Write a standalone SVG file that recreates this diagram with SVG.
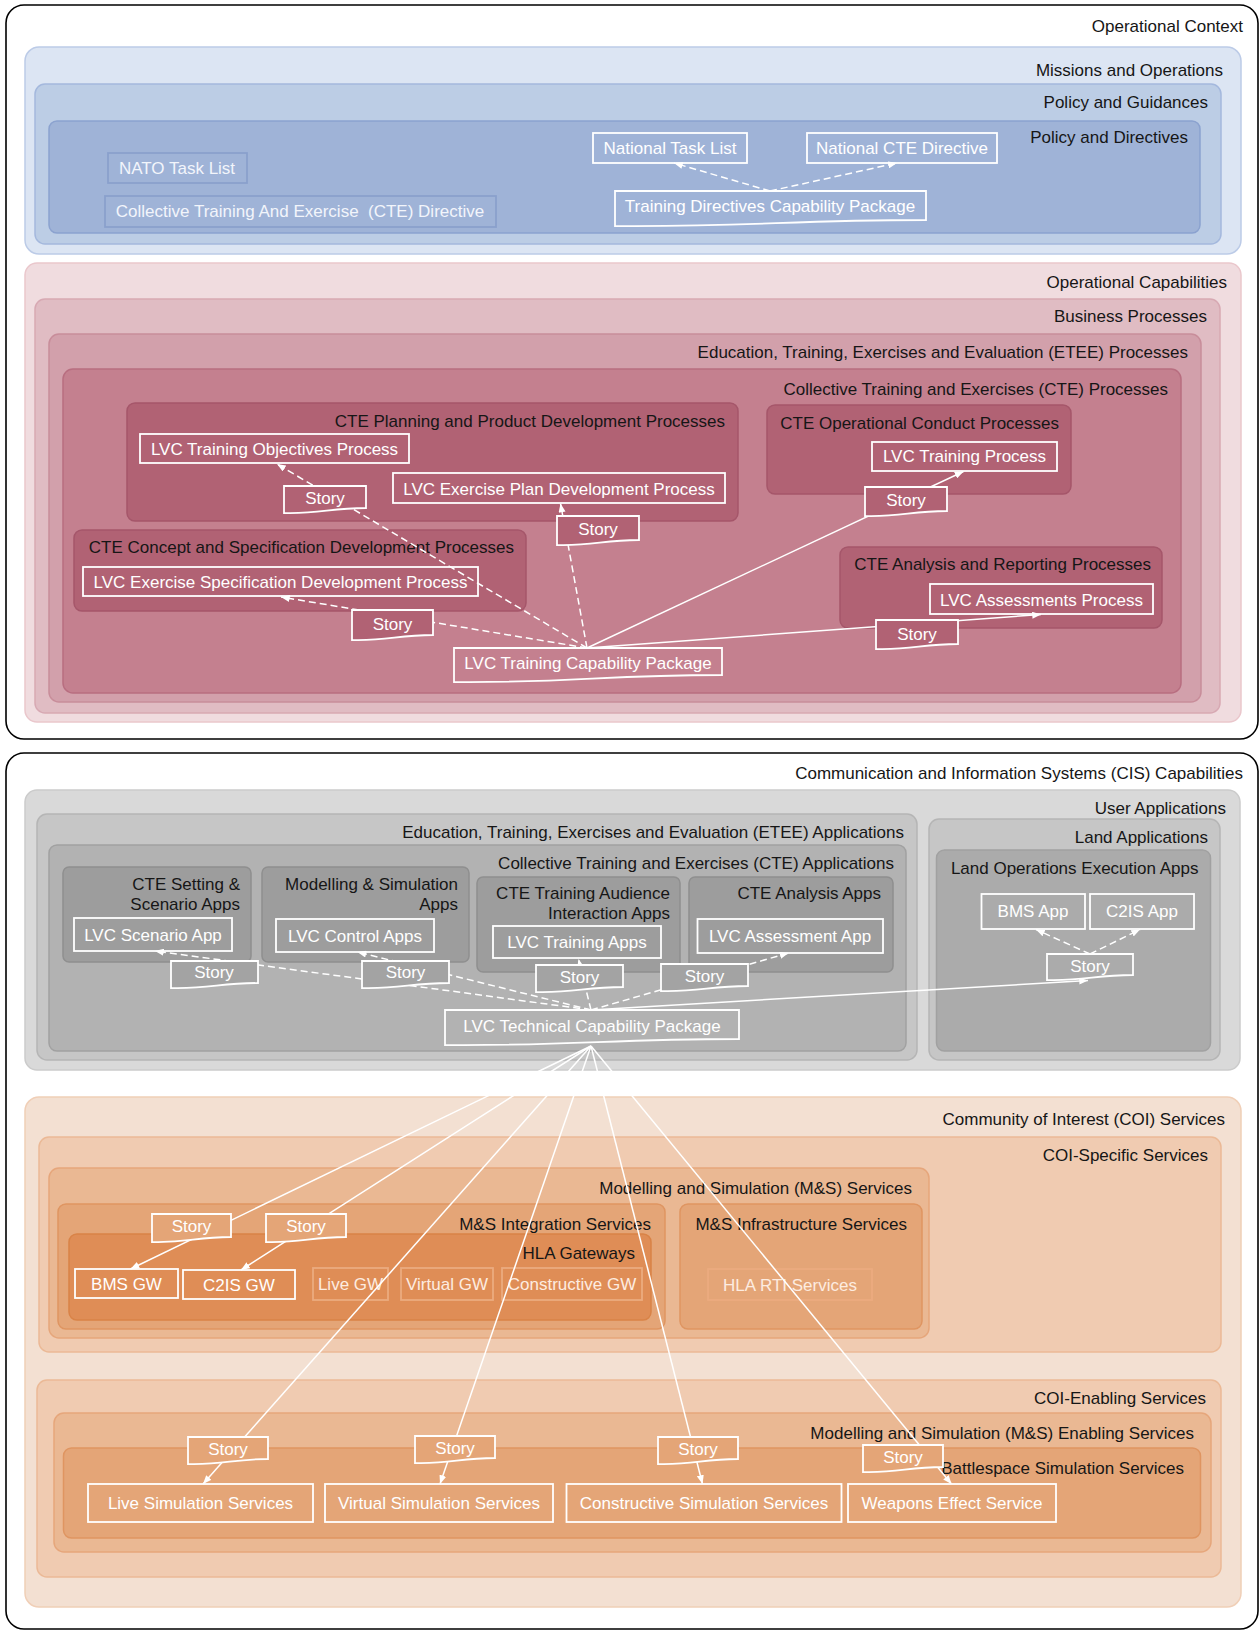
<svg xmlns="http://www.w3.org/2000/svg" width="1260" height="1631" viewBox="0 0 1260 1631">
<defs>
  <style>
    text { font-family: "Liberation Sans", Arial, sans-serif; font-size: 17px; }
    .lbl { fill: #161616; text-anchor: end; }
    .ntx { fill: #ffffff; text-anchor: middle; }
    .fade-b { fill: #f2f5fb; text-anchor: middle; }
    .fade-o { fill: #fdece0; text-anchor: middle; }
    .outer { fill: #ffffff; stroke: #000000; stroke-width: 1.6; }
    .node { fill: none; stroke: #ffffff; stroke-width: 1.8; }
    .b1 { fill: #dce5f3; stroke: #bccbe7; stroke-width: 1.5; }
    .b2 { fill: #bccde5; stroke: #a4b8dd; stroke-width: 1.5; }
    .b3 { fill: #9fb3d7; stroke: #8ba2cf; stroke-width: 1.5; }
    .bnode { fill: none; stroke: #8aa0cd; stroke-width: 1.8; }
    .p1 { fill: #f0dcdf; stroke: #eac7cc; stroke-width: 1.5; }
    .p2 { fill: #e0bcc3; stroke: #d7a9b3; stroke-width: 1.5; }
    .p3 { fill: #d2a0ab; stroke: #c88d9a; stroke-width: 1.5; }
    .p4 { fill: #c4808f; stroke: #b86e80; stroke-width: 1.5; }
    .p5 { fill: #b16274; stroke: #a5566a; stroke-width: 1.5; }
    .pstory { fill: #b16274; stroke: #ffffff; stroke-width: 1.8; }
    .g1 { fill: #d9d9d9; stroke: #cbcbcb; stroke-width: 1.5; }
    .g2 { fill: #c6c6c6; stroke: #b5b5b5; stroke-width: 1.5; }
    .g3 { fill: #b2b2b2; stroke: #a1a1a1; stroke-width: 1.5; }
    .g4 { fill: #9d9d9d; stroke: #8f8f8f; stroke-width: 1.5; }
    .gstory { fill: #a3a3a3; stroke: #ffffff; stroke-width: 1.8; }
    .o1 { fill: #f3e0d2; stroke: #f0cfb7; stroke-width: 1.5; }
    .o2 { fill: #f0cbb1; stroke: #ebb996; stroke-width: 1.5; }
    .o3 { fill: #eab893; stroke: #e6a67b; stroke-width: 1.5; }
    .o4 { fill: #e4a577; stroke: #df9561; stroke-width: 1.5; }
    .o5 { fill: #df8d56; stroke: #d98347; stroke-width: 1.5; }
    .onode { fill: none; stroke: #ebab7f; stroke-width: 1.8; }
    .ostory { fill: #e4a577; stroke: #ffffff; stroke-width: 1.8; }
    .con { fill: none; stroke: #ffffff; stroke-width: 1.5; }
    .dash { stroke-dasharray: 7 4; }
  </style>
  <marker id="ah" viewBox="0 0 10 8" refX="10" refY="4" markerWidth="9" markerHeight="7" markerUnits="userSpaceOnUse" orient="auto">
    <path d="M0,0 L10,4 L0,8 z" fill="#ffffff"/>
  </marker>
</defs>

<!-- ===================== Operational Context ===================== -->
<g id="operational-context">
  <rect class="outer" x="6" y="5" width="1252" height="734" rx="18"/>
  <text class="lbl" x="1243" y="32">Operational Context</text>
</g>
<g id="missions-and-operations">
  <rect class="b1" x="25" y="47" width="1216" height="207" rx="14"/>
  <text class="lbl" x="1223" y="76">Missions and Operations</text>
</g>
<g id="policy-and-guidances">
  <rect class="b2" x="35" y="84" width="1186" height="160" rx="10"/>
  <text class="lbl" x="1208" y="108">Policy and Guidances</text>
</g>
<g id="policy-and-directives">
  <rect class="b3" x="49" y="121" width="1151" height="112" rx="8"/>
  <text class="lbl" x="1188" y="143">Policy and Directives</text>
</g>

<g id="operational-capabilities">
  <rect class="p1" x="25" y="263" width="1216" height="459" rx="12"/>
  <text class="lbl" x="1227" y="288">Operational Capabilities</text>
</g>
<g id="business-processes">
  <rect class="p2" x="35" y="299" width="1185" height="414" rx="10"/>
  <text class="lbl" x="1207" y="322">Business Processes</text>
</g>
<g id="etee-processes">
  <rect class="p3" x="49" y="334" width="1152" height="368" rx="10"/>
  <text class="lbl" x="1188" y="358">Education, Training, Exercises and Evaluation (ETEE) Processes</text>
</g>
<g id="cte-processes">
  <rect class="p4" x="63" y="369" width="1118" height="324" rx="10"/>
  <text class="lbl" x="1168" y="395">Collective Training and Exercises (CTE) Processes</text>
</g>
<g id="cte-planning-processes">
  <rect class="p5" x="127" y="403" width="611" height="118" rx="8"/>
  <text class="lbl" x="725" y="427">CTE Planning and Product Development Processes</text>
</g>
<g id="cte-conduct-processes">
  <rect class="p5" x="767" y="405" width="304" height="89" rx="8"/>
  <text class="lbl" x="1059" y="429">CTE Operational Conduct Processes</text>
</g>
<g id="cte-concept-processes">
  <rect class="p5" x="74" y="530" width="452" height="81" rx="8"/>
  <text class="lbl" x="514" y="553">CTE Concept and Specification Development Processes</text>
</g>
<g id="cte-analysis-processes">
  <rect class="p5" x="840" y="547" width="322" height="81" rx="8"/>
  <text class="lbl" x="1151" y="570">CTE Analysis and Reporting Processes</text>
</g>

<!-- ===================== CIS Capabilities ===================== -->
<g id="cis-capabilities">
  <rect class="outer" x="6" y="753" width="1252" height="876" rx="18"/>
  <text class="lbl" x="1243" y="779">Communication and Information Systems (CIS) Capabilities</text>
</g>
<g id="user-applications">
  <rect class="g1" x="25" y="790" width="1215" height="280" rx="12"/>
  <text class="lbl" x="1226" y="814">User Applications</text>
</g>
<g id="etee-applications">
  <rect class="g2" x="37" y="814" width="880" height="246" rx="10"/>
  <text class="lbl" x="904" y="838">Education, Training, Exercises and Evaluation (ETEE) Applications</text>
</g>
<g id="cte-applications">
  <rect class="g3" x="49" y="845" width="857" height="206" rx="8"/>
  <text class="lbl" x="894" y="869">Collective Training and Exercises (CTE) Applications</text>
</g>
<g id="cte-setting-apps">
  <rect class="g4" x="63" y="867" width="188" height="95" rx="6"/>
  <text class="lbl" x="240" y="890">CTE Setting &amp;</text>
  <text class="lbl" x="240" y="910">Scenario Apps</text>
</g>
<g id="ms-apps">
  <rect class="g4" x="262" y="867" width="207" height="95" rx="6"/>
  <text class="lbl" x="458" y="890">Modelling &amp; Simulation</text>
  <text class="lbl" x="458" y="910">Apps</text>
</g>
<g id="cte-audience-apps">
  <rect class="g4" x="477" y="877" width="203" height="95" rx="6"/>
  <text class="lbl" x="670" y="899">CTE Training Audience</text>
  <text class="lbl" x="670" y="919">Interaction Apps</text>
</g>
<g id="cte-analysis-apps">
  <rect class="g4" x="689" y="877" width="204" height="95" rx="6"/>
  <text class="lbl" x="881" y="899">CTE Analysis Apps</text>
</g>
<g id="land-applications">
  <rect class="g2" x="929" y="819" width="291" height="241" rx="10"/>
  <text class="lbl" x="1208" y="843">Land Applications</text>
</g>
<g id="land-ops-apps">
  <rect class="g3" x="936.5" y="850" width="274" height="201" rx="8" style="fill:#ababab"/>
  <text class="lbl" x="1198.5" y="874">Land Operations Execution Apps</text>
</g>

<g id="coi-services">
  <rect class="o1" x="25" y="1097" width="1216" height="510" rx="14"/>
  <text class="lbl" x="1225" y="1125">Community of Interest (COI) Services</text>
</g>
<g id="coi-specific-services">
  <rect class="o2" x="39" y="1137" width="1182" height="215" rx="10"/>
  <text class="lbl" x="1208" y="1161">COI-Specific Services</text>
</g>
<g id="ms-services">
  <rect class="o3" x="49" y="1168" width="880" height="170" rx="10"/>
  <text class="lbl" x="912" y="1194">Modelling and Simulation (M&amp;S) Services</text>
</g>
<g id="ms-integration-services">
  <rect class="o4" x="58" y="1204" width="607" height="125" rx="8"/>
  <text class="lbl" x="651" y="1230">M&amp;S Integration Services</text>
</g>
<g id="hla-gateways">
  <rect class="o5" x="69" y="1234" width="582" height="86" rx="8"/>
  <text class="lbl" x="635" y="1259">HLA Gateways</text>
</g>
<g id="ms-infrastructure-services">
  <rect class="o4" x="680" y="1204" width="242" height="125" rx="8"/>
  <text class="lbl" x="907" y="1230">M&amp;S Infrastructure Services</text>
</g>
<g id="coi-enabling-services">
  <rect class="o2" x="37" y="1380" width="1184" height="197" rx="10"/>
  <text class="lbl" x="1206" y="1404">COI-Enabling Services</text>
</g>
<g id="ms-enabling-services">
  <rect class="o3" x="54" y="1413" width="1157" height="139" rx="10"/>
  <text class="lbl" x="1194" y="1439">Modelling and Simulation (M&amp;S) Enabling Services</text>
</g>
<g id="battlespace-simulation-services">
  <rect class="o4" x="63.5" y="1448" width="1137" height="90" rx="8"/>
  <text class="lbl" x="1184" y="1474">Battlespace Simulation Services</text>
</g>

<!-- ===================== Element nodes ===================== -->
<g id="nato-task-list">
  <rect class="bnode" x="108" y="153" width="139" height="30"/>
  <text class="fade-b" x="177" y="174">NATO Task List</text>
</g>
<g id="cte-directive">
  <rect class="bnode" x="105" y="196" width="391" height="31"/>
  <text class="fade-b" x="300" y="217">Collective Training And Exercise&#160; (CTE) Directive</text>
</g>
<g id="national-task-list">
  <rect class="node" x="593" y="133" width="154" height="30"/>
  <text class="ntx" x="670" y="154">National Task List</text>
</g>
<g id="national-cte-directive">
  <rect class="node" x="807" y="133" width="190" height="30"/>
  <text class="ntx" x="902" y="154">National CTE Directive</text>
</g>
<g id="training-directives-cp">
  <path class="node" d="M615,191 H926 V220 C786,220 755,227 615,226 Z"/>
  <text class="ntx" x="770" y="212">Training Directives Capability Package</text>
</g>

<g id="lvc-training-objectives">
  <rect class="node" x="140" y="434" width="269" height="29"/>
  <text class="ntx" x="274.5" y="455">LVC Training Objectives Process</text>
</g>
<g id="lvc-exercise-plan">
  <rect class="node" x="393" y="473" width="332" height="30"/>
  <text class="ntx" x="559" y="495">LVC Exercise Plan Development Process</text>
</g>
<g id="lvc-training-process">
  <rect class="node" x="872" y="442" width="185" height="29"/>
  <text class="ntx" x="964.5" y="462">LVC Training Process</text>
</g>
<g id="lvc-exercise-spec">
  <rect class="node" x="83" y="567" width="395" height="29"/>
  <text class="ntx" x="280.5" y="588">LVC Exercise Specification Development Process</text>
</g>
<g id="lvc-assessments-process">
  <rect class="node" x="930" y="584" width="223" height="30"/>
  <text class="ntx" x="1041.5" y="606">LVC Assessments Process</text>
</g>
<g id="lvc-training-cp">
  <path class="node" d="M454,648 H722 V675 C601,675 575,683 454,682 Z"/>
  <text class="ntx" x="588" y="669">LVC Training Capability Package</text>
</g>

<g id="lvc-scenario-app">
  <rect class="node" x="74" y="918" width="158" height="33"/>
  <text class="ntx" x="153" y="941">LVC Scenario App</text>
</g>
<g id="lvc-control-apps">
  <rect class="node" x="276" y="919" width="158" height="33"/>
  <text class="ntx" x="355" y="942">LVC Control Apps</text>
</g>
<g id="lvc-training-apps">
  <rect class="node" x="493" y="926" width="168" height="32"/>
  <text class="ntx" x="577" y="948">LVC Training Apps</text>
</g>
<g id="lvc-assessment-app">
  <rect class="node" x="697.5" y="919" width="185.5" height="34"/>
  <text class="ntx" x="790" y="942">LVC Assessment App</text>
</g>
<g id="bms-app">
  <rect class="node" x="981.5" y="894" width="103.5" height="35"/>
  <text class="ntx" x="1033" y="917">BMS App</text>
</g>
<g id="c2is-app">
  <rect class="node" x="1090" y="894" width="104" height="35"/>
  <text class="ntx" x="1142" y="917">C2IS App</text>
</g>
<g id="lvc-technical-cp">
  <path class="node" d="M445,1010 H739 V1039 C607,1039 577,1046 445,1045 Z"/>
  <text class="ntx" x="592" y="1032">LVC Technical Capability Package</text>
</g>

<g id="bms-gw">
  <rect class="node" x="75" y="1269" width="103" height="29"/>
  <text class="ntx" x="126.5" y="1290">BMS GW</text>
</g>
<g id="c2is-gw">
  <rect class="node" x="183" y="1270" width="112" height="29"/>
  <text class="ntx" x="239" y="1291">C2IS GW</text>
</g>
<g id="live-gw">
  <rect class="onode" x="313" y="1268" width="75" height="32"/>
  <text class="fade-o" x="350.5" y="1290">Live GW</text>
</g>
<g id="virtual-gw">
  <rect class="onode" x="401" y="1268" width="92" height="32"/>
  <text class="fade-o" x="447" y="1290">Virtual GW</text>
</g>
<g id="constructive-gw">
  <rect class="onode" x="502" y="1268" width="140" height="32"/>
  <text class="fade-o" x="572" y="1290">Constructive GW</text>
</g>
<g id="hla-rti-services">
  <rect class="onode" x="708" y="1269" width="164" height="31"/>
  <text class="fade-o" x="790" y="1291">HLA RTI Services</text>
</g>
<g id="live-simulation-services">
  <rect class="node" x="88" y="1484" width="225" height="38"/>
  <text class="ntx" x="200.5" y="1509">Live Simulation Services</text>
</g>
<g id="virtual-simulation-services">
  <rect class="node" x="325" y="1484" width="228" height="38"/>
  <text class="ntx" x="439" y="1509">Virtual Simulation Services</text>
</g>
<g id="constructive-simulation-services">
  <rect class="node" x="566.5" y="1484" width="275" height="38"/>
  <text class="ntx" x="704" y="1509">Constructive Simulation Services</text>
</g>
<g id="weapons-effect-service">
  <rect class="node" x="848" y="1484" width="208" height="38"/>
  <text class="ntx" x="952" y="1509">Weapons Effect Service</text>
</g>

<!-- ===================== Connectors ===================== -->
<g id="connectors">
  <!-- directives package -->
  <path class="con dash" d="M770,191 L674,163" marker-end="url(#ah)"/>
  <path class="con dash" d="M770,191 L897,163" marker-end="url(#ah)"/>
  <!-- training capability package -->
  <path class="con dash" d="M587,648 L277,464" marker-end="url(#ah)"/>
  <path class="con dash" d="M587,648 L560.5,503.5" marker-end="url(#ah)"/>
  <path class="con dash" d="M587,648 L281,597" marker-end="url(#ah)"/>
  <path class="con" d="M587,648 L963.5,471.5" marker-end="url(#ah)"/>
  <path class="con" d="M587,648 L1041,614.5" marker-end="url(#ah)"/>
  <!-- technical capability package: applications -->
  <path class="con dash" d="M591,1010 L155,951" marker-end="url(#ah)"/>
  <path class="con dash" d="M591,1010 L357.5,952" marker-end="url(#ah)"/>
  <path class="con dash" d="M591,1010 L578.5,959" marker-end="url(#ah)"/>
  <path class="con dash" d="M591,1010 L788.5,953" marker-end="url(#ah)"/>
  <path class="con" d="M591,1010 L1088,980.5" marker-end="url(#ah)"/>
  <path class="con dash" d="M1090,954 L1036,929.5" marker-end="url(#ah)"/>
  <path class="con dash" d="M1090,954 L1140,929.5" marker-end="url(#ah)"/>
  <!-- technical capability package: services -->
  <path class="con" d="M591,1046 L130.5,1269" marker-end="url(#ah)"/>
  <path class="con" d="M591,1046 L241,1270" marker-end="url(#ah)"/>
  <path class="con" d="M591,1046 L203,1484" marker-end="url(#ah)"/>
  <path class="con" d="M591,1046 L440,1484" marker-end="url(#ah)"/>
  <path class="con" d="M591,1046 L702.5,1484" marker-end="url(#ah)"/>
  <path class="con" d="M591,1046 L951.5,1484" marker-end="url(#ah)"/>
</g>

<!-- ===================== Story nodes ===================== -->
<g id="story-objectives">
  <path class="pstory" d="M284,486 H366 V508 C329,508 321,514 284,513 Z"/>
  <text class="ntx" x="325" y="504">Story</text>
</g>
<g id="story-plan">
  <path class="pstory" d="M557,516 H639 V540 C602,540 594,546 557,545 Z"/>
  <text class="ntx" x="598" y="535">Story</text>
</g>
<g id="story-spec">
  <path class="pstory" d="M352,610 H433 V635 C397,635 388,641 352,640 Z"/>
  <text class="ntx" x="392.5" y="630">Story</text>
</g>
<g id="story-training">
  <path class="pstory" d="M865,487 H947 V511 C910,511 902,517 865,516 Z"/>
  <text class="ntx" x="906" y="506">Story</text>
</g>
<g id="story-assessments">
  <path class="pstory" d="M876,620 H958 V644 C921,644 913,650 876,649 Z"/>
  <text class="ntx" x="917" y="640">Story</text>
</g>

<g id="story-scenario-app">
  <path class="gstory" d="M171,961 H258 V983 C219,983 210,989 171,988 Z"/>
  <text class="ntx" x="214" y="978">Story</text>
</g>
<g id="story-control-apps">
  <path class="gstory" d="M362,961 H449 V983 C410,983 401,989 362,988 Z"/>
  <text class="ntx" x="405.5" y="978">Story</text>
</g>
<g id="story-training-apps">
  <path class="gstory" d="M536,965 H623 V987 C584,987 575,993 536,992 Z"/>
  <text class="ntx" x="579.5" y="983">Story</text>
</g>
<g id="story-assessment-app">
  <path class="gstory" d="M661,964 H748 V986 C709,986 700,992 661,991 Z"/>
  <text class="ntx" x="704.5" y="982">Story</text>
</g>
<g id="story-land-apps">
  <path class="gstory" d="M1047,954 H1133 V975 C1094,975 1086,981 1047,980 Z" style="fill:#ababab"/>
  <text class="ntx" x="1090" y="972">Story</text>
</g>

<g id="story-bms-gw">
  <path class="ostory" d="M152,1214 H231 V1237 C195,1237 188,1243 152,1242 Z"/>
  <text class="ntx" x="191.5" y="1232">Story</text>
</g>
<g id="story-c2is-gw">
  <path class="ostory" d="M266,1214 H346 V1237 C310,1237 302,1243 266,1242 Z"/>
  <text class="ntx" x="306" y="1232">Story</text>
</g>
<g id="story-live-sim">
  <path class="ostory" d="M188,1437 H268 V1459 C232,1459 224,1465 188,1464 Z"/>
  <text class="ntx" x="228" y="1455">Story</text>
</g>
<g id="story-virtual-sim">
  <path class="ostory" d="M415,1436 H495 V1458 C459,1458 451,1464 415,1463 Z"/>
  <text class="ntx" x="455" y="1454">Story</text>
</g>
<g id="story-constructive-sim">
  <path class="ostory" d="M658,1437 H738 V1459 C702,1459 694,1465 658,1464 Z"/>
  <text class="ntx" x="698" y="1455">Story</text>
</g>
<g id="story-weapons">
  <path class="ostory" d="M863,1445 H943 V1467 C907,1467 899,1473 863,1472 Z"/>
  <text class="ntx" x="903" y="1463">Story</text>
</g>
</svg>
